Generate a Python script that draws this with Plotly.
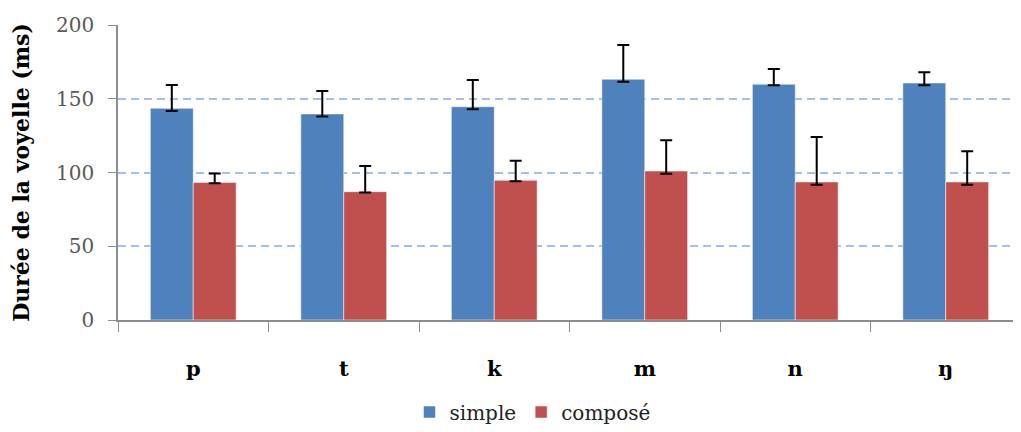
import plotly.graph_objects as go

categories = ["p", "t", "k", "m", "n", "ŋ"]
simple = [143.5, 139.7, 144.6, 163.2, 159.8, 160.7]
simple_err_plus = [15.8, 15.6, 18.1, 23.2, 10.4, 7.2]
simple_err_minus = [1.8, 1.8, 1.8, 1.6, 0.7, 1.6]
compose = [93.3, 87.0, 94.7, 101.0, 93.6, 93.6]
compose_err_plus = [6.1, 17.4, 13.3, 20.8, 30.5, 20.8]
compose_err_minus = [0.6, 0.6, 0.6, 1.8, 1.9, 1.9]
y_ticks = [0, 50, 100, 150, 200]

SERIF = "DejaVu Serif"

fig = go.Figure()
fig.add_trace(go.Bar(
    x=categories, y=simple, name="simple",
    marker=dict(color="#4F81BD", line=dict(color="rgba(255,255,255,0.5)", width=1)),
    error_y=dict(type="data", symmetric=False, array=simple_err_plus,
                 arrayminus=simple_err_minus, color="black", thickness=2, width=6),
))
fig.add_trace(go.Bar(
    x=categories, y=compose, name="composé",
    marker=dict(color="#C0504D", line=dict(color="rgba(255,255,255,0.5)", width=1)),
    error_y=dict(type="data", symmetric=False, array=compose_err_plus,
                 arrayminus=compose_err_minus, color="black", thickness=2, width=6),
))

# page has an 8px body margin; margins compensate for it
fig.update_layout(
    width=1021, height=432,
    margin=dict(l=110, r=8, t=17, b=120, autoexpand=False),
    paper_bgcolor="white", plot_bgcolor="white",
    barmode="group", bargap=0.43, bargroupgap=0,
    font=dict(family=SERIF, color="#595959"),
    legend=dict(orientation="h", x=0.459, xanchor="center", y=-0.312, yanchor="middle",
                font=dict(family=SERIF, size=20, color="#222222"),
                traceorder="normal"),
    showlegend=True,
)
fig.update_xaxes(
    type="category", showline=True, linecolor="#8c8c8c", linewidth=1.5,
    ticks="outside", tickson="boundaries", ticklen=10, tickcolor="#8c8c8c",
    tickfont=dict(family=SERIF, size=21, color="black", weight="bold"),
    ticklabelstandoff=29, showgrid=False, automargin=False,
)
fig.update_yaxes(
    range=[0, 200], tickvals=y_ticks, showline=True, linecolor="#8c8c8c", linewidth=1.5,
    ticks="outside", ticklen=8, tickcolor="#8c8c8c",
    tickfont=dict(family=SERIF, size=20, color="#595959"),
    ticklabelstandoff=10, automargin=False,
    showgrid=True, gridcolor="#a2c0ea", gridwidth=1.5, griddash="8px,5px",
    zeroline=False,
    title=dict(text="Durée de la voyelle (ms)", standoff=23,
               font=dict(family=SERIF, size=22, color="black", weight="bold")),
)

fig.write_html("out.html")
